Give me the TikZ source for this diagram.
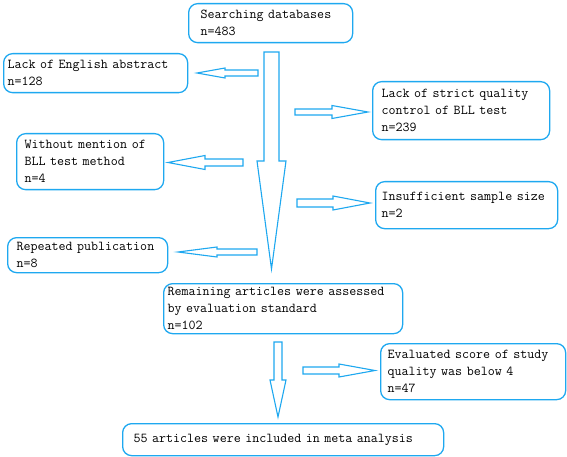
\documentclass[tikz,border=0pt]{standalone}
\usepackage{fontspec}
\definecolor{bl}{RGB}{30,168,240}
\newcommand\harrow[6]{% tail, head base, tip, y, shaft half, wing half
  \draw[blockarr] (#1,#4-#5) -- (#2,#4-#5) -- (#2,#4-#6) -- (#3,#4) -- (#2,#4+#6) -- (#2,#4+#5) -- (#1,#4+#5) -- cycle;}
\newcommand\varrow[6]{% x, tail, head base, tip, shaft half, wing half
  \draw[blockarr] (#1-#5,#2) -- (#1-#5,#3) -- (#1-#6,#3) -- (#1,#4) -- (#1+#6,#3) -- (#1+#5,#3) -- (#1+#5,#2) -- cycle;}
\tikzset{
  boxnode/.style n args={3}{draw=bl, line width=1.3pt, rounded corners=9pt, anchor=north west,
    inner xsep=#3, inner ysep=0pt, text width=#1, minimum height=#2, align=left,
    font=\ttfamily\fontsize{13.6}{17}\selectfont},
  blockarr/.style={draw=bl, line width=1.1pt, fill=white, line join=miter},
}
\begin{document}
\begin{tikzpicture}[x=1pt,y=-1pt]
\fill[white] (0,0) rectangle (567,457);
\useasboundingbox (0,0) rectangle (567,457);
\node[boxnode={140pt}{39pt}{12pt}] (search) at (188,3) {\mbox{Searching databases}\\n=483};
\node[boxnode={176pt}{39pt}{4pt}] (eng) at (3,53) {\mbox{Lack of English abstract}\\n=128};
\node[boxnode={159pt}{58pt}{9pt}] (strict) at (372,81) {\mbox{Lack of strict quality}\\\mbox{control of BLL test}\\n=239};
\node[boxnode={131pt}{56pt}{8pt}] (without) at (16,133) {\mbox{Without mention of}\\\mbox{BLL test method}\\n=4};
\node[boxnode={170pt}{47pt}{6pt}] (insuff) at (375,181) {\mbox{Insufficient sample size}\\n=2};
\node[boxnode={142pt}{35pt}{9pt}] (repeat) at (7,237) {\mbox{Repeated publication}\\n=8};
\node[boxnode={231pt}{50pt}{4pt}] (remain) at (163,283) {\mbox{Remaining articles were assessed}\\\mbox{by evaluation standard}\\n=102};
\node[boxnode={171pt}{56pt}{7pt}] (eval) at (380,343) {\mbox{Evaluated score of study}\\\mbox{quality was below 4}\\n=47};
\node[boxnode={299pt}{32pt}{11pt}] (final) at (122,423) {\mbox{55 articles were included in meta analysis}};
% block arrows
\varrow{271.5}{52}{161}{269}{7.5}{14.5}
\harrow{258}{225}{197}{73}{3}{5}
\harrow{295}{332}{368}{112}{3}{6.5}
\harrow{243}{205}{168}{162.5}{3.5}{7}
\harrow{297}{333}{370}{203}{4}{7}
\harrow{257}{217}{178}{252}{3}{5}
\varrow{278}{342}{380}{417}{4}{8}
\harrow{303}{339}{375}{370.5}{3.5}{6.5}
\end{tikzpicture}
\end{document}
